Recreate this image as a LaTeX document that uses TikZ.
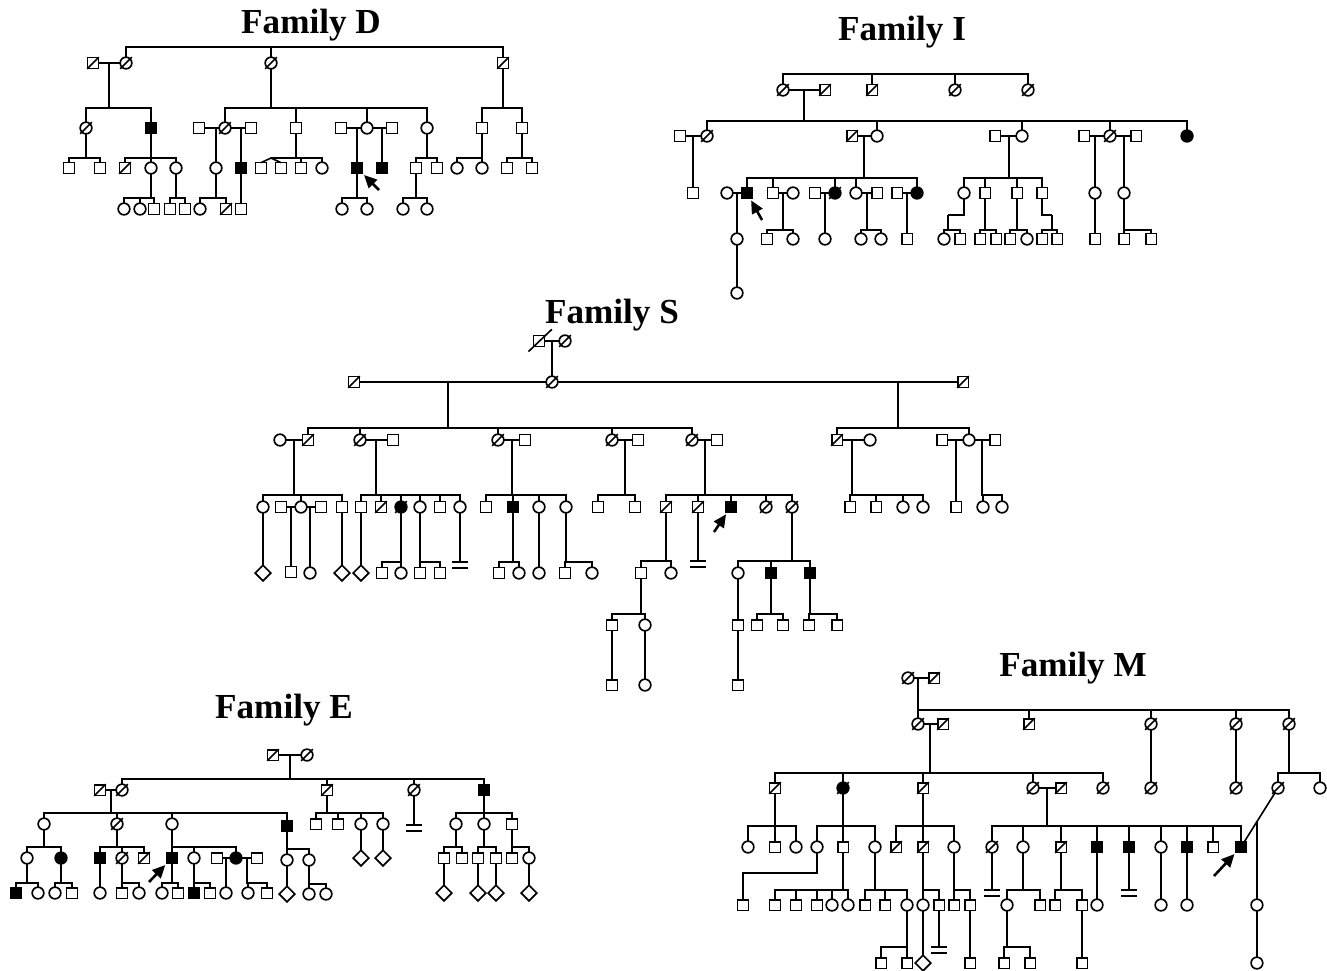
\documentclass[tikz,border=0pt]{standalone}
\usepackage{fontspec}
\setmainfont{Liberation Serif}
\usetikzlibrary{arrows.meta, shapes.geometric, calc}
\tikzset{
  every picture/.style={line width=1.4pt},
  sym/.style={draw, fill=white, inner sep=0pt, outer sep=0pt},
  male/.style={sym, rectangle, minimum size=0.32cm},
  fem/.style={sym, circle, minimum size=0.35cm},
  unk/.style={sym, diamond, minimum size=0.47cm},
  aff/.style={fill=black},
  died/.style={append after command={([xshift=-5pt,yshift=-5pt]\tikzlastnode.center) edge ([xshift=5pt,yshift=5pt]\tikzlastnode.center)}},
  diedlong/.style={append after command={([xshift=-9pt,yshift=-9pt]\tikzlastnode.center) edge ([xshift=11pt,yshift=10pt]\tikzlastnode.center)}},
  proband/.style={-{Triangle[length=11pt,width=10pt]}, line width=2.2pt, shorten >=2pt},
  title/.style={font=\bfseries\fontsize{30}{36}\selectfont},
}
% sibship: parent or couple point, height of the bar, children
\newcommand{\sibs}[3]{\foreach \kid in {#3}{\draw (#1) -- (#1 |- 0,#2) -| (\kid.north);}}
% no offspring
\newcommand{\nokids}[2]{\draw (#1) -- (#1 |- 0,#2) ++(-8,0) -- ++(16,0) ++(-16,6) -- ++(16,0);}

\begin{document}
\begin{tikzpicture}[x=0.03cm, y=-0.03cm]
  \useasboundingbox (0,0) rectangle (1327,970);

  % ---- family D
  \node[title] (dt) at (311,25) {Family D};
  \node[male, died] (d1) at (93,63) {};
  \node[fem, died]  (d2) at (126,63) {};
  \node[fem, died]  (d3) at (271,63) {};
  \node[male, died] (d4) at (503,63) {};
  \node[fem, died]  (d5) at (86,128) {};
  \node[male, aff]  (d6) at (151,128) {};
  \node[male]       (d7) at (199,128) {};
  \node[fem, died]  (d8) at (225,128) {};
  \node[male]       (d9) at (251,128) {};
  \node[male]       (d10) at (296,128) {};
  \node[male]       (d11) at (341,128) {};
  \node[fem]        (d12) at (367,128) {};
  \node[male]       (d13) at (392,128) {};
  \node[fem]        (d14) at (427,128) {};
  \node[male]       (d15) at (482,128) {};
  \node[male]       (d16) at (522,128) {};
  \node[male]       (d17) at (69,168) {};
  \node[male]       (d18) at (100,168) {};
  \node[male, died] (d19) at (125,168) {};
  \node[fem]        (d20) at (151,168) {};
  \node[fem]        (d21) at (176,168) {};
  \node[fem]        (d22) at (216,168) {};
  \node[male, aff]  (d23) at (241,168) {};
  \node[male]       (d24) at (261,168) {};
  \node[male]       (d25) at (281,168) {};
  \node[male]       (d26) at (301,168) {};
  \node[fem]        (d27) at (322,168) {};
  \node[male, aff]  (d28) at (357,168) {};
  \node[male, aff]  (d29) at (382,168) {};
  \node[male]       (d30) at (416,168) {};
  \node[male]       (d31) at (437,168) {};
  \node[fem]        (d32) at (457,168) {};
  \node[fem]        (d33) at (482,168) {};
  \node[male]       (d34) at (507,168) {};
  \node[male]       (d35) at (532,168) {};
  \node[fem]        (d36) at (124,209) {};
  \node[fem]        (d37) at (140,209) {};
  \node[male]       (d38) at (154,209) {};
  \node[male]       (d39) at (170,209) {};
  \node[male]       (d40) at (185,209) {};
  \node[fem]        (d41) at (200,209) {};
  \node[male, died] (d42) at (226,209) {};
  \node[male]       (d43) at (241,209) {};
  \node[fem]        (d44) at (342,209) {};
  \node[fem]        (d45) at (367,209) {};
  \node[fem]        (d46) at (403,209) {};
  \node[fem]        (d47) at (427,209) {};

  \draw (d1) -- (d2) (d7) -- (d8) -- (d9) (d11) -- (d12) -- (d13);
  \sibs{d2}{47}{d3,d4}
  \coordinate (dc1) at (109,63);
  \sibs{dc1}{108}{d5,d6}
  \sibs{d3}{108}{d8,d10,d12,d14}
  \sibs{d4}{108}{d15,d16}
  \sibs{d5}{158}{d17,d18}
  \sibs{d6}{158}{d19,d20,d21}
  \coordinate (dc2) at (216,128);
  \coordinate (dc3) at (241,128);
  \draw (dc2) -- (d22) (dc3) -- (d23) -- (d43);
  \coordinate (dtw) at (271,158);
  \draw (d10) |- (dtw) -- (d24.north) (dtw) -- (d25.north);
  \sibs{d10}{158}{d26,d27}
  \coordinate (dc4) at (357,128);
  \coordinate (dc5) at (382,128);
  \draw (dc4) -- (d28) (dc5) -- (d29);
  \sibs{d14}{158}{d30,d31}
  \sibs{d15}{158}{d32,d33}
  \sibs{d16}{158}{d34,d35}
  \sibs{d20}{198}{d36,d37,d38}
  \sibs{d21}{198}{d39,d40}
  \sibs{d22}{198}{d41,d42}
  \sibs{d28}{198}{d44,d45}
  \sibs{d30}{198}{d46,d47}
  \coordinate (darr) at (379,190);
  \draw[proband] (darr) -- (d28);

  % ---- family I
  \node[title] (it) at (902,32) {Family I};
  \node[fem, died]  (i1) at (783,90) {};
  \node[male, died] (i2) at (825,90) {};
  \node[male, died] (i3) at (872,90) {};
  \node[fem, died]  (i4) at (955,90) {};
  \node[fem, died]  (i5) at (1028,90) {};
  \node[male]       (i6) at (680,136) {};
  \node[fem, died]  (i7) at (707,136) {};
  \node[male, died] (i8) at (852,136) {};
  \node[fem]        (i9) at (877,136) {};
  \node[male]       (i10) at (995,136) {};
  \node[fem]        (i11) at (1022,136) {};
  \node[male]       (i12) at (1084,136) {};
  \node[fem, died]  (i13) at (1110,136) {};
  \node[male]       (i14) at (1136,136) {};
  \node[fem, aff]   (i15) at (1187,136) {};
  \node[male]       (i16) at (693,193) {};
  \node[fem]        (i17) at (727,193) {};
  \node[male, aff]  (i18) at (747,193) {};
  \node[male]       (i19) at (773,193) {};
  \node[fem]        (i20) at (793,193) {};
  \node[male]       (i21) at (815,193) {};
  \node[fem, aff, died] (i22) at (835,193) {};
  \node[fem]        (i23) at (856,193) {};
  \node[male]       (i24) at (877,193) {};
  \node[male]       (i25) at (897,193) {};
  \node[fem, aff]   (i26) at (917,193) {};
  \node[fem]        (i27) at (964,193) {};
  \node[male]       (i28) at (985,193) {};
  \node[male]       (i29) at (1017,193) {};
  \node[male]       (i30) at (1042,193) {};
  \node[fem]        (i31) at (1095,193) {};
  \node[fem]        (i32) at (1124,193) {};
  \node[fem]        (i33) at (737,239) {};
  \node[fem]        (i34) at (737,293) {};
  \node[male]       (i35) at (767,239) {};
  \node[fem]        (i36) at (793,239) {};
  \node[fem]        (i37) at (825,239) {};
  \node[fem]        (i38) at (861,239) {};
  \node[fem]        (i39) at (881,239) {};
  \node[male]       (i40) at (907,239) {};
  \node[fem]        (i41) at (944,239) {};
  \node[male]       (i42) at (960,239) {};
  \node[male]       (i43) at (980,239) {};
  \node[male]       (i44) at (996,239) {};
  \node[male]       (i45) at (1010,239) {};
  \node[fem]        (i46) at (1027,239) {};
  \node[male]       (i47) at (1042,239) {};
  \node[male]       (i48) at (1057,239) {};
  \node[male]       (i49) at (1095,239) {};
  \node[male]       (i50) at (1124,239) {};
  \node[male]       (i51) at (1151,239) {};

  \draw (i1) -- (i2) (i6) -- (i7) (i8) -- (i9) (i10) -- (i11) (i12) -- (i13) -- (i14);
  \draw (i17) -- (i18) (i19) -- (i20) (i21) -- (i22) (i23) -- (i24) (i25) -- (i26);
  \sibs{i1}{74}{i3,i4,i5}
  \coordinate (ic1) at (804,90);
  \sibs{ic1}{121}{i7,i9,i11,i13,i15}
  \coordinate (ic2) at (693,136);
  \coordinate (ic3) at (864,136);
  \coordinate (ic4) at (1009,136);
  \coordinate (ic5) at (1095,136);
  \coordinate (ic6) at (1124,136);
  \draw (ic2) -- (i16) (ic5) -- (i31) -- (i49);
  \sibs{ic3}{178}{i18,i19,i22,i23,i26}
  \sibs{ic4}{178}{i27,i28,i29,i30}
  \draw (ic6) -- (i32);
  \sibs{i32}{230}{i50,i51}
  \coordinate (ic7) at (737,193);
  \coordinate (ic8) at (783,193);
  \coordinate (ic9) at (825,193);
  \coordinate (ic10) at (867,193);
  \coordinate (ic11) at (907,193);
  \draw (ic7) -- (i33) -- (i34) (ic9) -- (i37) (ic11) -- (i40);
  \sibs{ic8}{230}{i35,i36}
  \sibs{ic10}{230}{i38,i39}
  \coordinate (ie1) at (948,215);
  \coordinate (ie2) at (1052,215);
  \draw (i27) |- (ie1) (i30) |- (ie2);
  \sibs{ie1}{230}{i41,i42}
  \sibs{i28}{230}{i43,i44}
  \sibs{i29}{230}{i45,i46}
  \sibs{ie2}{230}{i47,i48}
  \coordinate (iarr) at (762,220);
  \draw[proband] (iarr) -- (i18);

  % ---- family S
  \node[title] (st) at (612,315) {Family S};
  \node[male, diedlong] (s1) at (539,341) {};
  \node[fem, died]  (s2) at (565,341) {};
  \node[fem, died]  (s3) at (552,382) {};
  \node[male, died] (s4) at (354,382) {};
  \node[male, died] (s5) at (963,382) {};
  \node[fem]        (s6) at (280,440) {};
  \node[male, died] (s7) at (308,440) {};
  \node[fem, died]  (s8) at (360,440) {};
  \node[male]       (s9) at (393,440) {};
  \node[fem, died]  (s10) at (498,440) {};
  \node[male]       (s11) at (525,440) {};
  \node[fem, died]  (s12) at (612,440) {};
  \node[male]       (s13) at (638,440) {};
  \node[fem, died]  (s14) at (692,440) {};
  \node[male]       (s15) at (717,440) {};
  \node[male, died] (s16) at (837,440) {};
  \node[fem]        (s17) at (870,440) {};
  \node[male]       (s18) at (942,440) {};
  \node[fem]        (s19) at (969,440) {};
  \node[male]       (s20) at (995,440) {};
  \node[fem]        (s21) at (263,507) {};
  \node[male]       (s22) at (281,507) {};
  \node[fem]        (s23) at (301,507) {};
  \node[male]       (s24) at (321,507) {};
  \node[male]       (s25) at (342,507) {};
  \node[male]       (s26) at (361,507) {};
  \node[male, died] (s27) at (381,507) {};
  \node[fem, aff, died] (s28) at (401,507) {};
  \node[fem]        (s29) at (420,507) {};
  \node[male]       (s30) at (440,507) {};
  \node[fem]        (s31) at (460,507) {};
  \node[male]       (s32) at (486,507) {};
  \node[male, aff]  (s33) at (513,507) {};
  \node[fem]        (s34) at (539,507) {};
  \node[fem]        (s35) at (566,507) {};
  \node[male]       (s36) at (598,507) {};
  \node[male]       (s37) at (635,507) {};
  \node[male, died] (s38) at (666,507) {};
  \node[male, died] (s39) at (698,507) {};
  \node[male, aff]  (s40) at (731,507) {};
  \node[fem, died]  (s41) at (766,507) {};
  \node[fem, died]  (s42) at (792,507) {};
  \node[male]       (s43) at (850,507) {};
  \node[male]       (s44) at (876,507) {};
  \node[fem]        (s45) at (903,507) {};
  \node[fem]        (s46) at (923,507) {};
  \node[male]       (s47) at (956,507) {};
  \node[fem]        (s48) at (983,507) {};
  \node[fem]        (s49) at (1002,507) {};
  \node[unk]        (s50) at (263,573) {};
  \node[male]       (s51) at (291,572) {};
  \node[fem]        (s52) at (310,573) {};
  \node[unk]        (s53) at (342,573) {};
  \node[unk]        (s54) at (361,573) {};
  \node[male]       (s55) at (382,573) {};
  \node[fem]        (s56) at (401,573) {};
  \node[male]       (s57) at (420,573) {};
  \node[male]       (s58) at (440,573) {};
  \node[male]       (s59) at (499,573) {};
  \node[fem]        (s60) at (519,573) {};
  \node[fem]        (s61) at (539,573) {};
  \node[male]       (s62) at (565,573) {};
  \node[fem]        (s63) at (592,573) {};
  \node[male]       (s64) at (641,573) {};
  \node[fem]        (s65) at (671,573) {};
  \node[fem]        (s66) at (738,573) {};
  \node[male, aff]  (s67) at (771,573) {};
  \node[male, aff]  (s68) at (810,573) {};
  \node[male]       (s69) at (612,625) {};
  \node[fem]        (s70) at (645,625) {};
  \node[male]       (s71) at (738,625) {};
  \node[male]       (s72) at (757,625) {};
  \node[male]       (s73) at (783,625) {};
  \node[male]       (s74) at (809,625) {};
  \node[male]       (s75) at (837,625) {};
  \node[male]       (s76) at (612,685) {};
  \node[fem]        (s77) at (645,685) {};
  \node[male]       (s78) at (738,685) {};

  \draw (s1) -- (s2) (s4) -- (s3) -- (s5);
  \coordinate (sc1) at (552,341);
  \draw (sc1) -- (s3);
  \coordinate (sc2) at (448,382);
  \coordinate (sc3) at (898,382);
  \sibs{sc2}{428}{s7,s8,s10,s12,s14}
  \sibs{sc3}{428}{s16,s19}
  \draw (s6) -- (s7) (s8) -- (s9) (s10) -- (s11) (s12) -- (s13) (s14) -- (s15);
  \draw (s16) -- (s17) (s18) -- (s19) -- (s20);
  \coordinate (sc4) at (294,440);
  \coordinate (sc5) at (376,440);
  \coordinate (sc6) at (512,440);
  \coordinate (sc7) at (625,440);
  \coordinate (sc8) at (705,440);
  \coordinate (sc9) at (852,440);
  \coordinate (sc10) at (956,440);
  \coordinate (sc11) at (982,440);
  \sibs{sc4}{495}{s21,s23,s25}
  \sibs{sc5}{495}{s26,s27,s28,s29,s30,s31}
  \sibs{sc6}{495}{s32,s33,s34,s35}
  \sibs{sc7}{495}{s36,s37}
  \sibs{sc8}{495}{s38,s39,s40,s41,s42}
  \sibs{sc9}{495}{s43,s44,s45,s46}
  \draw (sc10) -- (s47);
  \sibs{sc11}{495}{s48,s49}
  \draw (s22) -- (s23) -- (s24);
  \coordinate (sc12) at (291,507);
  \coordinate (sc13) at (310,507);
  \draw (sc12) -- (s51) (sc13) -- (s52);
  \draw (s21) -- (s50) (s25) -- (s53) (s26) -- (s54) (s34) -- (s61);
  \sibs{s28}{562}{s55,s56}
  \sibs{s29}{562}{s57,s58}
  \nokids{s31}{562}
  \sibs{s33}{562}{s59,s60}
  \sibs{s35}{562}{s62,s63}
  \sibs{s38}{561}{s64,s65}
  \nokids{s39}{561}
  \sibs{s42}{561}{s66,s67,s68}
  \sibs{s64}{614}{s69,s70}
  \draw (s66) -- (s71) -- (s78) (s69) -- (s76) (s70) -- (s77);
  \sibs{s67}{614}{s72,s73}
  \sibs{s68}{614}{s74,s75}
  \coordinate (sarr) at (714,532);
  \draw[proband] (sarr) -- (s40);

  % ---- family E
  \node[title] (et) at (284,710) {Family E};
  \node[male, died] (e1) at (273,755) {};
  \node[fem, died]  (e2) at (307,755) {};
  \node[male, died] (e3) at (100,790) {};
  \node[fem, died]  (e4) at (122,790) {};
  \node[male, died] (e5) at (327,790) {};
  \node[fem, died]  (e6) at (414,790) {};
  \node[male, aff]  (e7) at (484,790) {};
  \node[fem]        (e8) at (44,824) {};
  \node[fem, died]  (e9) at (117,824) {};
  \node[fem]        (e10) at (172,824) {};
  \node[male, aff]  (e11) at (287,826) {};
  \node[male]       (e12) at (316,824) {};
  \node[male]       (e13) at (338,824) {};
  \node[fem]        (e14) at (361,824) {};
  \node[fem]        (e15) at (383,824) {};
  \node[fem]        (e16) at (456,824) {};
  \node[fem]        (e17) at (484,824) {};
  \node[male]       (e18) at (512,824) {};
  \node[fem]        (e19) at (27,858) {};
  \node[fem, aff]   (e20) at (61,858) {};
  \node[male, aff]  (e21) at (100,858) {};
  \node[fem, died]  (e22) at (122,858) {};
  \node[male, died] (e23) at (144,858) {};
  \node[male, aff]  (e24) at (172,858) {};
  \node[fem]        (e25) at (194,858) {};
  \node[male]       (e26) at (217,858) {};
  \node[fem, aff]   (e27) at (236,858) {};
  \node[male]       (e28) at (257,858) {};
  \node[fem]        (e29) at (287,860) {};
  \node[fem]        (e30) at (309,860) {};
  \node[unk]        (e31) at (361,858) {};
  \node[unk]        (e32) at (383,858) {};
  \node[male]       (e33) at (444,858) {};
  \node[male]       (e34) at (462,858) {};
  \node[male]       (e35) at (478,858) {};
  \node[male]       (e36) at (496,858) {};
  \node[male]       (e37) at (512,858) {};
  \node[fem]        (e38) at (529,858) {};
  \node[male, aff]  (e39) at (16,893) {};
  \node[fem]        (e40) at (38,893) {};
  \node[fem]        (e41) at (55,893) {};
  \node[male]       (e42) at (72,893) {};
  \node[fem]        (e43) at (100,893) {};
  \node[male]       (e44) at (122,893) {};
  \node[fem]        (e45) at (139,893) {};
  \node[fem]        (e46) at (162,893) {};
  \node[male]       (e47) at (178,893) {};
  \node[male, aff]  (e48) at (194,893) {};
  \node[male]       (e49) at (210,893) {};
  \node[fem]        (e50) at (226,893) {};
  \node[fem]        (e51) at (248,893) {};
  \node[male]       (e52) at (267,893) {};
  \node[unk]        (e53) at (287,894) {};
  \node[fem]        (e54) at (309,894) {};
  \node[fem]        (e55) at (326,894) {};
  \node[unk]        (e56) at (444,893) {};
  \node[unk]        (e57) at (478,893) {};
  \node[unk]        (e58) at (496,893) {};
  \node[unk]        (e59) at (529,893) {};

  \draw (e1) -- (e2) (e3) -- (e4) (e26) -- (e27) -- (e28);
  \coordinate (ec1) at (290,755);
  \coordinate (ec2) at (111,790);
  \sibs{ec1}{779}{e4,e5,e6,e7}
  \sibs{ec2}{813}{e8,e9,e10,e11}
  \sibs{e5}{813}{e12,e13,e14,e15}
  \nokids{e6}{825}
  \sibs{e7}{813}{e16,e17,e18}
  \sibs{e8}{847}{e19,e20}
  \sibs{e9}{847}{e21,e22,e23}
  \sibs{e10}{847}{e24,e25,e27}
  \sibs{e11}{849}{e29,e30}
  \draw (e14) -- (e31) (e15) -- (e32);
  \sibs{e16}{847}{e33,e34}
  \sibs{e17}{847}{e35,e36}
  \sibs{e18}{847}{e37,e38}
  \sibs{e19}{883}{e39,e40}
  \sibs{e20}{883}{e41,e42}
  \draw (e21) -- (e43);
  \sibs{e22}{883}{e44,e45}
  \sibs{e24}{883}{e46,e47}
  \sibs{e25}{883}{e48,e49}
  \coordinate (ec3) at (226,858);
  \coordinate (ec4) at (247,858);
  \draw (ec3) -- (e50);
  \sibs{ec4}{883}{e51,e52}
  \draw (e29) -- (e53);
  \sibs{e30}{884}{e54,e55}
  \draw (e33) -- (e56) (e35) -- (e57) (e36) -- (e58) (e38) -- (e59);
  \coordinate (earr) at (149,882);
  \draw[proband] (earr) -- (e24);

  % ---- family M
  \node[title] (mt) at (1073,668) {Family M};
  \node[fem, died]  (m1) at (908,678) {};
  \node[male, died] (m2) at (934,678) {};
  \node[fem, died]  (m3) at (918,724) {};
  \node[male, died] (m4) at (943,724) {};
  \node[male, died] (m5) at (1029,724) {};
  \node[fem, died]  (m6) at (1151,724) {};
  \node[fem, died]  (m7) at (1236,724) {};
  \node[fem, died]  (m8) at (1289,724) {};
  \node[male, died] (m9) at (775,788) {};
  \node[fem, aff, died] (m10) at (843,788) {};
  \node[male, died] (m11) at (923,788) {};
  \node[fem, died]  (m12) at (1033,788) {};
  \node[male, died] (m13) at (1061,788) {};
  \node[fem, died]  (m14) at (1103,788) {};
  \node[fem, died]  (m15) at (1151,788) {};
  \node[fem, died]  (m16) at (1236,788) {};
  \node[fem, died]  (m17) at (1278,788) {};
  \node[fem]        (m18) at (1320,788) {};
  \node[fem]        (m19) at (748,847) {};
  \node[male]       (m20) at (775,847) {};
  \node[fem]        (m21) at (796,847) {};
  \node[fem]        (m22) at (817,847) {};
  \node[male]       (m23) at (843,847) {};
  \node[fem]        (m24) at (875,847) {};
  \node[male, died] (m25) at (896,847) {};
  \node[male, died] (m26) at (923,847) {};
  \node[fem]        (m27) at (954,847) {};
  \node[fem, died]  (m28) at (992,847) {};
  \node[fem]        (m29) at (1023,847) {};
  \node[male, died] (m30) at (1061,847) {};
  \node[male, aff]  (m31) at (1097,847) {};
  \node[male, aff]  (m32) at (1129,847) {};
  \node[fem]        (m33) at (1161,847) {};
  \node[male, aff]  (m34) at (1187,847) {};
  \node[male]       (m35) at (1213,847) {};
  \node[male, aff]  (m36) at (1241,847) {};
  \node[male]       (m37) at (743,905) {};
  \node[male]       (m38) at (775,905) {};
  \node[male]       (m39) at (796,905) {};
  \node[male]       (m40) at (817,905) {};
  \node[fem]        (m41) at (832,905) {};
  \node[fem]        (m42) at (848,905) {};
  \node[male]       (m43) at (865,905) {};
  \node[male]       (m44) at (885,905) {};
  \node[fem]        (m45) at (907,905) {};
  \coordinate (mc4) at ($(m17)!.57!(m36)$);
  \node[fem]        (m46) at (mc4 |- 0,905) {};
  \node[fem]        (m47) at (923,905) {};
  \node[male]       (m48) at (939,905) {};
  \node[male]       (m49) at (954,905) {};
  \node[male]       (m50) at (970,905) {};
  \node[fem]        (m51) at (1007,905) {};
  \node[male]       (m52) at (1040,905) {};
  \node[male]       (m53) at (1055,905) {};
  \node[male]       (m54) at (1082,905) {};
  \node[fem]        (m55) at (1097,905) {};
  \node[fem]        (m56) at (1161,905) {};
  \node[fem]        (m57) at (1187,905) {};
  \node[male]       (m58) at (881,963) {};
  \node[male]       (m59) at (907,963) {};
  \node[unk]        (m60) at (923,963) {};
  \node[male]       (m61) at (970,963) {};
  \node[male]       (m62) at (1004,963) {};
  \node[male]       (m63) at (1030,963) {};
  \node[male]       (m64) at (1082,963) {};
  \node[fem]        (m65) at (mc4 |- 0,963) {};

  \draw (m1) -- (m2) (m3) -- (m4) (m12) -- (m13) (m17) -- (m36);
  \coordinate (mc1) at (918,678);
  \coordinate (mc2) at (930,724);
  \coordinate (mc3) at (1047,788);
  \sibs{mc1}{710}{m3,m5,m6,m7,m8}
  \sibs{mc2}{773}{m9,m10,m11,m12,m14}
  \draw (m6) -- (m15) (m7) -- (m16);
  \sibs{m8}{773}{m17,m18}
  \sibs{m9}{826}{m19,m20,m21}
  \sibs{m10}{826}{m22,m23,m24}
  \sibs{m11}{826}{m25,m26,m27}
  \sibs{mc3}{826}{m28,m29,m30,m31,m32,m33,m34,m35,m36}
  \coordinate (me1) at (743,873);
  \draw (m22) |- (me1) -- (m37);
  \sibs{m23}{890}{m38,m39,m40,m41,m42}
  \sibs{m24}{890}{m43,m44,m45}
  \sibs{m26}{890}{m47,m48}
  \sibs{m27}{890}{m49,m50}
  \nokids{m28}{890}
  \sibs{m29}{890}{m51,m52}
  \sibs{m30}{890}{m53,m54}
  \draw (m31) -- (m55) (m33) -- (m56) (m34) -- (m57);
  \nokids{m32}{890}
  \draw (mc4) -- (m46) -- (m65);
  \sibs{m45}{947}{m58,m59}
  \draw (m47) -- (m60) (m50) -- (m61) (m54) -- (m64);
  \nokids{m48}{947}
  \sibs{m51}{947}{m62,m63}
  \coordinate (marr) at (1214,876);
  \draw[proband] (marr) -- (m36);
\end{tikzpicture}
\end{document}
